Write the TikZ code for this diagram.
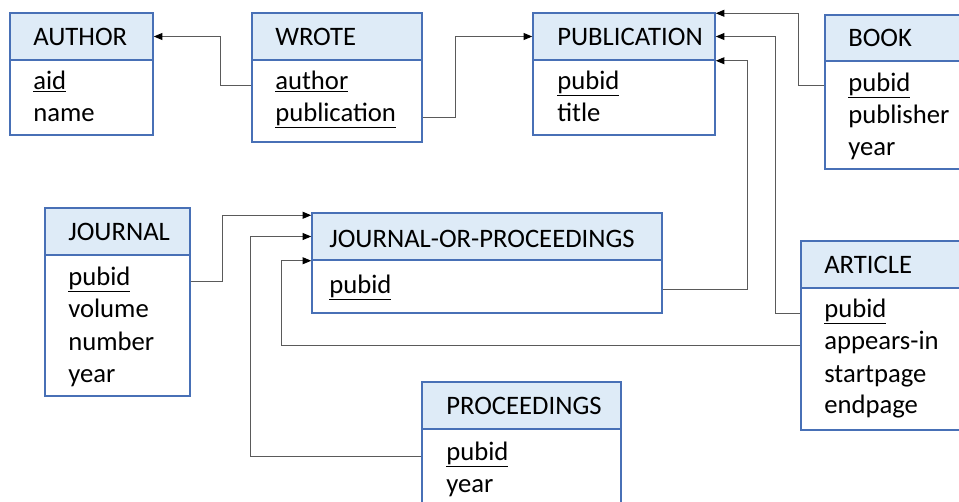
\documentclass[tikz,border=0pt]{standalone}
\usepackage{fontspec}
\setmainfont{Carlito}
\usetikzlibrary{fit,calc,arrows.meta}
\definecolor{hdrfill}{RGB}{222,235,247}
\definecolor{boxline}{RGB}{72,112,182}
\definecolor{connline}{RGB}{90,90,90}
\tikzset{
  hdr/.style={draw=boxline, fill=hdrfill, line width=1.1pt, inner sep=0pt},
  tbody/.style={draw=boxline, fill=white, line width=1.1pt, inner sep=0pt},
  txt/.style={anchor=base west, inner sep=0pt, font=\fontsize{20}{24}\selectfont},
  conn/.style={draw=connline, line width=0.8pt, -{Triangle[length=6.5pt,width=5.2pt,color=black]}},
}
\begin{document}
\begin{tikzpicture}[x=0.75pt, y=-0.75pt]
\useasboundingbox (0,0) rectangle (959,501);

% AUTHOR
\node[hdr, fit={(10,13) (153,60)}] (author-h) {};
\node[tbody, fit={(10,60) (153,135)}] (author-b) {};
\node[txt] (author-t) at (33,45) {AUTHOR};
\node[txt] (author-aid) at (33,89) {\underline{aid}};
\node[txt] (author-name) at (33,121) {name};

% WROTE
\node[hdr, fit={(252,13) (422,60)}] (wrote-h) {};
\node[tbody, fit={(252,60) (422,142)}] (wrote-b) {};
\node[txt] (wrote-t) at (275,45) {WROTE};
\node[txt] (wrote-author) at (275,89) {\underline{author}};
\node[txt] (wrote-pub) at (275,121) {\underline{publication}};

% PUBLICATION
\node[hdr, fit={(533,13) (715,60)}] (pub-h) {};
\node[tbody, fit={(533,60) (715,135)}] (pub-b) {};
\node[txt] (pub-t) at (557,45) {PUBLICATION};
\node[txt] (pub-pubid) at (557,89) {\underline{pubid}};
\node[txt] (pub-title) at (557,121) {title};

% BOOK
\node[hdr, fit={(825,15) (975,61)}] (book-h) {};
\node[tbody, fit={(825,61) (975,169)}] (book-b) {};
\node[txt] (book-t) at (848,46) {BOOK};
\node[txt] (book-pubid) at (848,91) {\underline{pubid}};
\node[txt] (book-publisher) at (848,123) {publisher};
\node[txt] (book-year) at (848,155) {year};

% JOURNAL
\node[hdr, fit={(45,208) (190,255)}] (journal-h) {};
\node[tbody, fit={(45,255) (190,396)}] (journal-b) {};
\node[txt] (journal-t) at (68,240) {JOURNAL};
\node[txt] (journal-pubid) at (68,285) {\underline{pubid}};
\node[txt] (journal-volume) at (68,317) {volume};
\node[txt] (journal-number) at (68,350) {number};
\node[txt] (journal-year) at (68,382) {year};

% JOURNAL-OR-PROCEEDINGS
\node[hdr, fit={(312,213) (662,260)}] (jop-h) {};
\node[tbody, fit={(312,260) (662,313)}] (jop-b) {};
\node[txt] (jop-t) at (329,247) {JOURNAL-OR-PROCEEDINGS};
\node[txt] (jop-pubid) at (329,293) {\underline{pubid}};

% ARTICLE
\node[hdr, fit={(801,241) (975,288)}] (article-h) {};
\node[tbody, fit={(801,288) (975,430)}] (article-b) {};
\node[txt] (article-t) at (824,273) {ARTICLE};
\node[txt] (article-pubid) at (824,317) {\underline{pubid}};
\node[txt] (article-appears) at (824,349) {appears-in};
\node[txt] (article-start) at (824,382) {startpage};
\node[txt] (article-end) at (824,413) {endpage};

% PROCEEDINGS
\node[hdr, fit={(422,382) (621,429)}] (proc-h) {};
\node[tbody, fit={(422,429) (621,515)}] (proc-b) {};
\node[txt] (proc-t) at (446,414) {PROCEEDINGS};
\node[txt] (proc-pubid) at (446,460) {\underline{pubid}};
\node[txt] (proc-year) at (446,492) {year};

% foreign-key connectors
\draw[conn] (wrote-b.west |- wrote-author.mid) -- ++(-31,0) |- (author-h.east);
\draw[conn] (wrote-b.east |- wrote-pub.mid) -- ++(33,0) |- (pub-h.west);
\draw[conn] (book-b.west |- book-pubid.center) -- ++(-26,0) |- ($(pub-h.north east)+(0,1)$);
\draw[conn] (article-b.west |- article-pubid.mid) -- ++(-25,0) |- (pub-h.east);
\draw[conn] (jop-b.east |- jop-pubid.mid) -- ++(85,0) |- (pub-h.south east);
\draw[conn] (journal-b.east |- journal-pubid.mid) -- ++(32,0) |- ($(jop-h.north west)+(0,3)$);
\draw[conn] (proc-b.west |- proc-pubid.mid) -- ++(-171,0) |- (jop-h.west);
\draw[conn] (article-b.west |- article-appears.mid) -- ++(-519,0) |- (jop-h.south west);
\end{tikzpicture}
\end{document}
